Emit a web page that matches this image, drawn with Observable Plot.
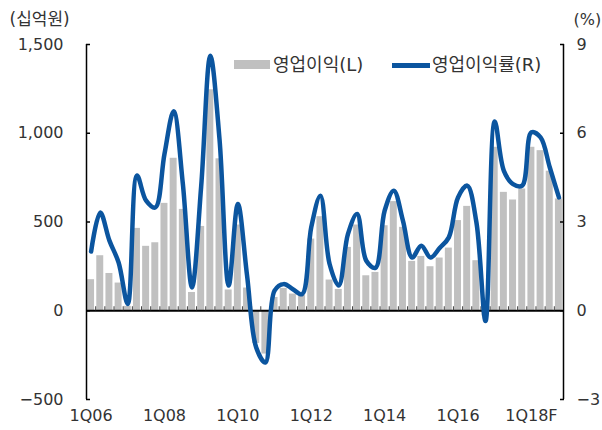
<!DOCTYPE html>
<html>
<head>
<meta charset="utf-8">
<script src="https://cdn.jsdelivr.net/npm/d3@7"></script>
<script src="https://cdn.jsdelivr.net/npm/@observablehq/plot@0.6"></script>
<style>
  body { margin: 0; background: #fff; }
  #wrap { position: relative; width: 602px; height: 430px; font-family: "DejaVu Sans", "Noto Sans CJK KR", sans-serif; color: #333; }
  .sw { position: absolute; }
  .lt { position: absolute; font-size: 18px; line-height: 20px; white-space: nowrap; color: #333; }
</style>
</head>
<body>
<div id="wrap"></div>
<script>
const quarters = [
  "1Q06","2Q06","3Q06","4Q06","1Q07","2Q07","3Q07","4Q07",
  "1Q08","2Q08","3Q08","4Q08","1Q09","2Q09","3Q09","4Q09",
  "1Q10","2Q10","3Q10","4Q10","1Q11","2Q11","3Q11","4Q11",
  "1Q12","2Q12","3Q12","4Q12","1Q13","2Q13","3Q13","4Q13",
  "1Q14","2Q14","3Q14","4Q14","1Q15","2Q15","3Q15","4Q15",
  "1Q16","2Q16","3Q16","4Q16","1Q17","2Q17","3Q17","4Q17",
  "1Q18F","2Q18F","3Q18F","4Q18F"
];
// 영업이익 (십억원), left axis
const profit = [
  175, 310, 210, 156, 25, 464, 363, 383,
  605, 859, 571, 103, 475, 1245, 856, 117,
  483, 128, -184, -244, 75, 126, 94, 86,
  404, 530, 173, 120, 357, 483, 197, 216,
  479, 615, 470, 278, 306, 248, 297, 353,
  508, 588, 282, -30, 921, 667, 624, 686,
  921, 902, 786, 630
];
// 영업이익률 (%), right axis
const margin = [
  2.0, 3.32, 2.37, 1.63, 0.23, 4.57, 3.72, 3.49,
  5.3, 6.74, 4.3, 0.79, 4.2, 8.62, 5.8, 0.85,
  3.61, 1.2, -1.24, -1.75, 0.68, 0.9, 0.73, 0.56,
  2.82, 3.89, 1.58, 0.85, 2.59, 3.27, 1.69, 1.45,
  3.38, 4.06, 3.04, 1.8, 2.2, 1.8, 2.12, 2.48,
  3.83, 4.23, 3.0, -0.35, 6.4, 4.73, 4.28, 4.23,
  6.03, 5.86, 4.85, 3.83
];
const xTickLabels = ["1Q06","1Q08","1Q10","1Q12","1Q14","1Q16","1Q18F"];
const leftTicks = [-500, 0, 500, 1000, 1500];
const rightTicks = [-3, 0, 3, 6, 9];
const leftUnit = "(십억원)";
const rightUnit = "(%)";
const seriesNames = ["영업이익(L)", "영업이익률(R)"];

const barColor = "#c0c0c0";
const lineColor = "#0b559f";
const ratio = 1500 / 9; // right-axis % -> left-axis units

const data = quarters.map((q, i) => ({i, q, profit: profit[i], margin: margin[i]}));
const boundaries = quarters.slice(1).map((q, i) => i + 0.5);
const fmt = d3.format(",");

const chart = Plot.plot({
  width: 602,
  height: 430,
  marginLeft: 86,
  marginRight: 39,
  marginTop: 44,
  marginBottom: 31,
  style: {fontFamily: "'DejaVu Sans', 'Noto Sans CJK KR', sans-serif", fontSize: "16px", color: "#333", background: "#fff"},
  x: {type: "linear", domain: [-0.5, quarters.length - 0.5]},
  y: {domain: [-500, 1500]},
  marks: [
    Plot.rectY(data, {x1: d => d.i - 0.38, x2: d => d.i + 0.38, y: "profit", fill: barColor}),
    Plot.ruleY([0], {stroke: "#000", strokeWidth: 2}),
    Plot.ruleX(boundaries, {y1: 0, y2: 0, insetTop: -4, stroke: "#444", strokeWidth: 1}),
    Plot.line(data, {x: "i", y: d => d.margin * ratio, curve: "catmull-rom", stroke: lineColor, strokeWidth: 4.5, strokeLinejoin: "round", strokeLinecap: "round"}),
    Plot.ruleX([-0.5, quarters.length - 0.5], {stroke: "#000", strokeWidth: 1.5}),
    Plot.axisY(leftTicks, {anchor: "left", tickSize: -4, tickPadding: 27, tickFormat: d => fmt(d), stroke: "#000", strokeWidth: 1.5, fontSize: 16, label: null}),
    Plot.axisY(rightTicks.map(v => v * ratio), {anchor: "right", tickSize: -4, tickPadding: 17, tickFormat: d => fmt(Math.round(d / ratio)), stroke: "#000", strokeWidth: 1.5, fontSize: 16, label: null}),
    Plot.axisX(xTickLabels.map(l => quarters.indexOf(l)), {anchor: "bottom", tickSize: 0, tickPadding: 10, tickFormat: i => quarters[i], fontSize: 16, label: null}),
    Plot.text([leftUnit], {frameAnchor: "top-left", dx: -77, dy: -25, textAnchor: "start", lineAnchor: "middle", fontSize: 17, fill: "#333"}),
    Plot.text([rightUnit], {frameAnchor: "top-right", dx: 10, dy: -25, textAnchor: "start", lineAnchor: "middle", fontSize: 16, fill: "#333"})
  ]
});

const wrap = document.getElementById("wrap");
wrap.appendChild(chart);

function addBox(left, top, w, h, bg) {
  const el = document.createElement("div");
  el.className = "sw";
  Object.assign(el.style, {left: left + "px", top: top + "px", width: w + "px", height: h + "px", background: bg});
  wrap.appendChild(el);
}
function addText(left, top, txt) {
  const el = document.createElement("div");
  el.className = "lt";
  el.style.left = left + "px";
  el.style.top = top + "px";
  el.textContent = txt;
  wrap.appendChild(el);
}
addBox(234, 60, 36, 9, barColor);
addText(273, 55, seriesNames[0]);
addBox(392, 63, 38, 4.5, lineColor);
addText(432, 55, seriesNames[1]);
</script>
</body>
</html>
